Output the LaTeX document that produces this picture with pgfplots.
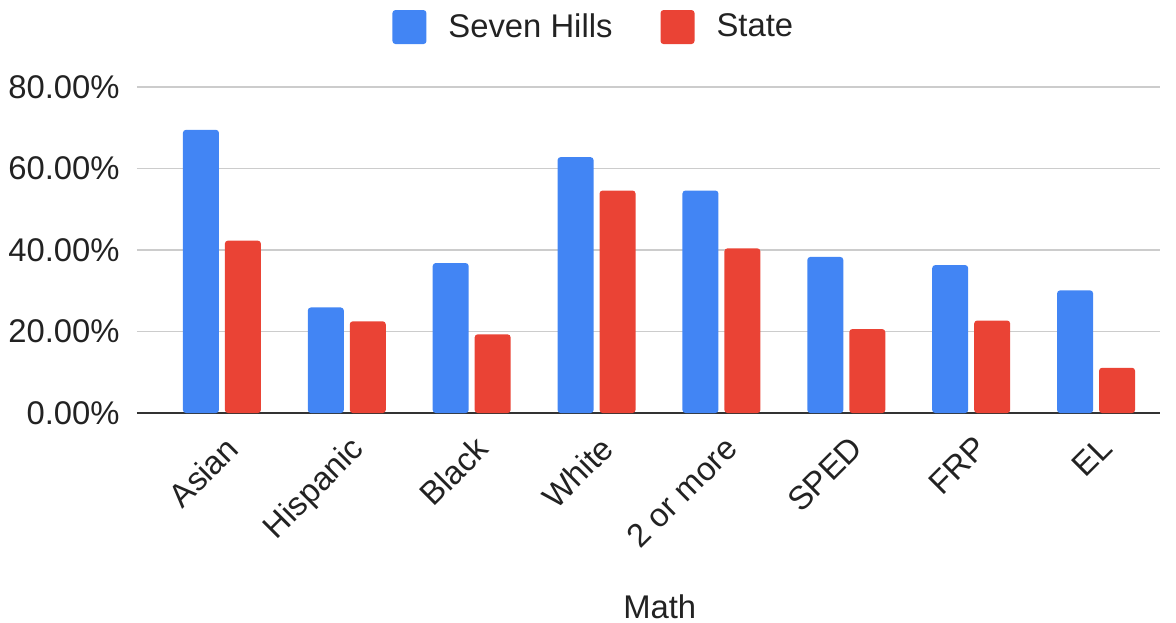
\documentclass[border=0pt]{standalone}
\usepackage{pgfplots}
\pgfplotsset{compat=1.18}
\usepackage{fontspec}
\setmainfont{Liberation Sans}
\definecolor{sevblue}{HTML}{4285F4}
\definecolor{stred}{HTML}{EA4335}
\definecolor{txt}{HTML}{222222}
\definecolor{grid}{HTML}{CCCCCC}
\definecolor{base}{HTML}{333333}
\begin{document}
\begin{tikzpicture}
\path[use as bounding box] (-68.5pt,-104.5pt) rectangle (519.5pt,206.5pt);
\begin{axis}[
  at={(0pt,0pt)}, anchor=south west,
  scale only axis,
  width=511.5pt, height=163pt,
  xmin=-0.68, xmax=7.512,
  ymin=0, ymax=80,
  ytick={0,20,40,60,80},
  yticklabels={0.00\%,20.00\%,40.00\%,60.00\%,80.00\%},
  xtick={0,1,2,3,4,5,6,7},
  xticklabels={Asian,Hispanic,Black,White,2 or more,SPED,FRP,EL},
  xticklabel style={xshift=1pt, yshift=-9pt, rotate=45, anchor=north east, inner sep=1pt},
  yticklabel style={inner sep=0pt, xshift=-8.5pt},
  tick label style={font=\fontsize{16.4}{19}\selectfont, text=txt},
  major tick length=0pt,
  axis x line*=bottom,
  y axis line style={draw=none},
  x axis line style={draw=base, line width=1.2pt, -},
  ymajorgrids, grid style={draw=grid, line width=0.9pt},
  xlabel={Math},
  xlabel style={at={(axis description cs:0.511,0)}, anchor=center, yshift=-97pt, font=\fontsize{16.4}{19}\selectfont, text=txt},
  legend columns=2,
  legend style={at={(axis description cs:0.4475,1.184)}, anchor=center, draw=none, fill=none,
    font=\fontsize{16.4}{19}\selectfont, text=txt,
    /tikz/every even column/.append style={column sep=22pt}},
  legend image code/.code={\fill[#1, rounded corners=1.5pt] (0pt,-8.5pt) rectangle (17pt,8.5pt);},
  legend cell align=left,
]
\addplot[ybar, bar width=0.288, bar shift=-0.168, fill=sevblue, draw=none, rounded corners=1.5pt]
  coordinates {(0,69.5) (1,25.9) (2,36.8) (3,62.8) (4,54.6) (5,38.3) (6,36.3) (7,30.1)};
\addlegendentry{\hspace{9pt}Seven Hills}
\addplot[ybar, bar width=0.288, bar shift=0.168, fill=stred, draw=none, rounded corners=1.5pt]
  coordinates {(0,42.3) (1,22.5) (2,19.3) (3,54.6) (4,40.4) (5,20.6) (6,22.7) (7,11.1)};
\addlegendentry{\hspace{9pt}State}
\end{axis}
\end{tikzpicture}
\end{document}
